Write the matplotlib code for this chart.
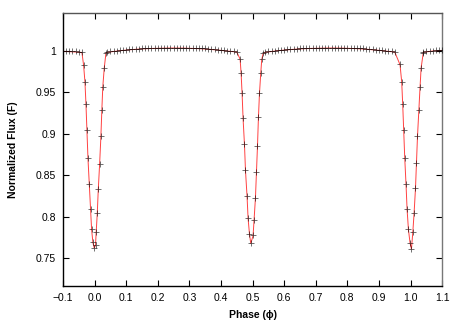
import numpy as np
import matplotlib
matplotlib.use("Agg")
import matplotlib.pyplot as plt

plt.rcParams['font.family'] = ['Liberation Sans', 'DejaVu Sans']

# ---------- out-of-eclipse data ----------
base_a_phase = [-0.10, -0.09, -0.08, -0.07, -0.06, -0.05, -0.04]
base_a_flux = [1.0000, 1.0000, 0.9998, 0.9996, 0.9994, 0.9991, 0.9988]

base_b_phase = [0.04, 0.05, 0.06, 0.07, 0.08, 0.09, 0.10, 0.11, 0.12, 0.13,
                0.14, 0.15, 0.16, 0.17, 0.18, 0.19, 0.20, 0.21, 0.22, 0.23,
                0.24, 0.25, 0.26, 0.27, 0.28, 0.29, 0.30, 0.31, 0.32, 0.33,
                0.34, 0.35, 0.36, 0.37, 0.38, 0.39, 0.40, 0.41, 0.42, 0.43,
                0.44, 0.45]
base_b_flux = [0.9990, 0.9995, 1.0000, 1.0005, 1.0009, 1.0013, 1.0017, 1.0020,
               1.0023, 1.0026, 1.0029, 1.0031, 1.0033, 1.0035, 1.0036, 1.0037,
               1.0038, 1.0039, 1.0040, 1.0040, 1.0041, 1.0041, 1.0041, 1.0040,
               1.0040, 1.0039, 1.0038, 1.0037, 1.0036, 1.0034, 1.0032, 1.0030,
               1.0027, 1.0024, 1.0021, 1.0017, 1.0013, 1.0009, 1.0005, 1.0001,
               0.9997, 0.9993]

base_c_phase = [0.54, 0.55, 0.56, 0.57, 0.58, 0.59, 0.60, 0.61, 0.62, 0.63,
                0.64, 0.65, 0.66, 0.67, 0.68, 0.69, 0.70, 0.71, 0.72, 0.73,
                0.74, 0.75, 0.76, 0.77, 0.78, 0.79, 0.80, 0.81, 0.82, 0.83,
                0.84, 0.85, 0.86, 0.87, 0.88, 0.89, 0.90, 0.91, 0.92, 0.93,
                0.94, 0.95]
base_c_flux = [0.9990, 0.9995, 1.0000, 1.0005, 1.0009, 1.0013, 1.0017, 1.0020,
               1.0023, 1.0026, 1.0029, 1.0031, 1.0033, 1.0035, 1.0036, 1.0037,
               1.0038, 1.0039, 1.0040, 1.0040, 1.0041, 1.0041, 1.0041, 1.0040,
               1.0040, 1.0039, 1.0038, 1.0037, 1.0036, 1.0034, 1.0032, 1.0030,
               1.0027, 1.0024, 1.0021, 1.0017, 1.0013, 1.0009, 1.0005, 1.0001,
               0.9997, 0.9993]

base_d_phase = [1.04, 1.05, 1.06, 1.07, 1.08, 1.09, 1.10]
base_d_flux = [0.9990, 0.9995, 1.0000, 1.0005, 1.0008, 1.0011, 1.0013]

# ---------- eclipses ----------
prim_phase = [-0.0346, -0.0304, -0.0272, -0.0241, -0.0209, -0.0167, -0.0125,
              -0.0094, -0.0052, -0.0010, 0.0030, 0.0050, 0.0085, 0.0117,
              0.0160, 0.0200, 0.0230, 0.0260, 0.0306, 0.0360]
prim_flux = [0.983, 0.963, 0.936, 0.904, 0.871, 0.839, 0.809, 0.785, 0.769,
             0.7625, 0.766, 0.781, 0.804, 0.833, 0.864, 0.897, 0.929, 0.957,
             0.980, 0.998]

sec_phase = [0.4606, 0.4637, 0.4669, 0.4700, 0.4744, 0.4776, 0.4826, 0.4858,
             0.4902, 0.4943, 0.5016, 0.5047, 0.5091, 0.5123, 0.5155, 0.5186,
             0.5218, 0.5259, 0.5290, 0.5330]
sec_flux = [0.9907, 0.9738, 0.9488, 0.9186, 0.8875, 0.856, 0.8246, 0.7984,
            0.7795, 0.7681, 0.7774, 0.7964, 0.823, 0.8533, 0.8851, 0.9205,
            0.9488, 0.9738, 0.990, 0.997]

ter_phase = [0.9667, 0.9720, 0.9752, 0.9784, 0.9816, 0.9857, 0.9890, 0.9933,
             0.9984, 1.0028, 1.0070, 1.0110, 1.0155, 1.0187, 1.0219, 1.0260,
             1.0300, 1.0333, 1.0397]
ter_flux = [0.9839, 0.963, 0.9355, 0.9044, 0.871, 0.8388, 0.8089, 0.7847,
            0.7686, 0.7613, 0.781, 0.8037, 0.834, 0.865, 0.8972, 0.9286,
            0.9568, 0.9798, 0.997]

# ---------- combine ----------
phase = np.concatenate([base_a_phase, prim_phase, base_b_phase, sec_phase,
                        base_c_phase, ter_phase, base_d_phase])
flux = np.concatenate([base_a_flux, prim_flux, base_b_flux, sec_flux,
                       base_c_flux, ter_flux, base_d_flux])
order = np.argsort(phase)
phase = phase[order]
flux = flux[order]

fig = plt.figure(figsize=(4.63, 3.24), dpi=100)
ax = fig.add_axes([0.136, 0.117, 0.819, 0.842])

ax.plot(phase, flux - 0.0006, color='#ff2020', lw=0.7, alpha=0.85, zorder=2)
ax.plot(phase, flux, linestyle='none', marker='+', color='black',
        markersize=5, markeredgewidth=0.6, alpha=0.65, zorder=3)

ax.set_xlim(-0.1, 1.1)
ax.set_ylim(0.716, 1.0455)

xt = np.round(np.arange(-0.1, 1.15, 0.1), 1)
ax.set_xticks(xt)
ax.set_xticklabels(["\u22120.1" if v < 0 else f"{v:.1f}" for v in xt])
yt = [0.75, 0.8, 0.85, 0.9, 0.95, 1.0]
ax.set_yticks(yt)
ax.set_yticklabels(["0.75", "0.8", "0.85", "0.9", "0.95", "1"])

ax.tick_params(direction='in', top=True, right=True, length=4, width=0.8,
               labelsize=7.5, pad=5)
for s in ax.spines.values():
    s.set_linewidth(1.0)
ax.spines['top'].set_color('#555555')
ax.spines['right'].set_color('#777777')

ax.set_xlabel("Phase (\u03d5)", fontsize=7.5, fontweight='bold', labelpad=5)
ax.set_ylabel("Normalized Flux (F)", fontsize=7.5, fontweight='bold', labelpad=13)

fig.savefig("out.png", dpi=100)
